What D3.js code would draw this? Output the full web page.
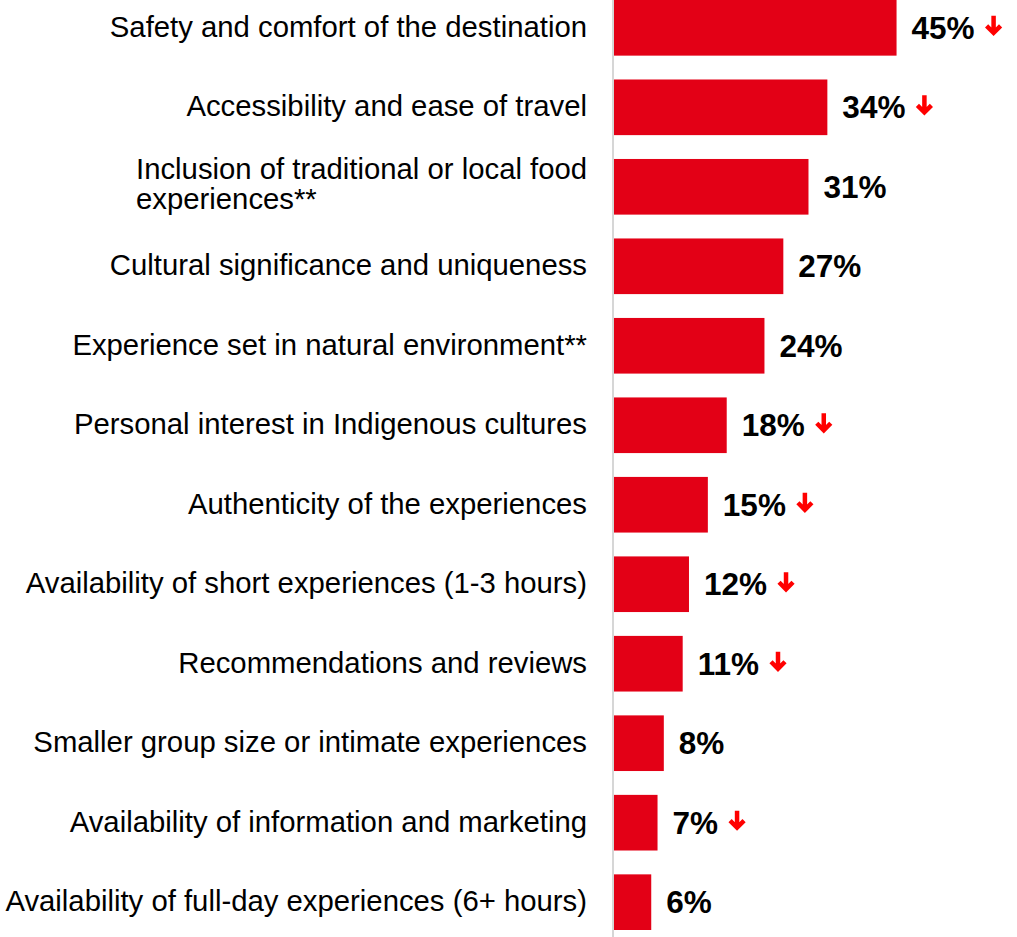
<!DOCTYPE html>
<html>
<head>
<meta charset="utf-8">
<script src="https://cdn.jsdelivr.net/npm/d3@7"></script>
<style>
  html, body { margin: 0; padding: 0; background: #fff; }
  svg { display: block; }
</style>
</head>
<body>
<svg id="chart" width="1017" height="937"></svg>
<script>
// Factors considered when choosing an Indigenous tourism experience
const categories = [
  "Safety and comfort of the destination",
  "Accessibility and ease of travel",
  "Inclusion of traditional or local food\nexperiences**",
  "Cultural significance and uniqueness",
  "Experience set in natural environment**",
  "Personal interest in Indigenous cultures",
  "Authenticity of the experiences",
  "Availability of short experiences (1-3 hours)",
  "Recommendations and reviews",
  "Smaller group size or intimate experiences",
  "Availability of information and marketing",
  "Availability of full-day experiences (6+ hours)"
];
const values = [45, 34, 31, 27, 24, 18, 15, 12, 11, 8, 7, 6];
// true where the share fell compared with the previous wave
const decreased = [true, true, false, false, false, true, true, true, true, false, true, false];

const svg = d3.select("#chart");
const W = 1017, H = 937;
const axisX = 613.5;

const x = d3.scaleLinear().domain([0, 100]).range([axisX, axisX + 629]);
const y = d3.scaleBand().domain(categories).range([0, 930]).paddingInner(0.3).paddingOuter(0);

// bars
svg.append("g").selectAll("rect")
  .data(values)
  .join("rect")
  .attr("x", x(0))
  .attr("y", (d, i) => y(categories[i]))
  .attr("width", d => x(d) - x(0))
  .attr("height", y.bandwidth())
  .attr("fill", "#e30016");

// vertical axis line
svg.append("line")
  .attr("x1", axisX - 0.5).attr("x2", axisX - 0.5)
  .attr("y1", 0).attr("y2", H)
  .attr("stroke", "#d6d6d6")
  .attr("stroke-width", 2);

// category labels
const catFont = 29.3;
const cat = svg.append("g")
  .attr("font-family", "Liberation Sans, Arial, sans-serif")
  .attr("font-size", catFont)
  .attr("fill", "#000")
  .attr("text-anchor", "end");

categories.forEach((c, i) => {
  const cy = y(c) + y.bandwidth() / 2;
  const lines = c.split("\n");
  if (lines.length === 1) {
    cat.append("text").attr("x", 587).attr("y", cy + 9).text(c);
  } else {
    const t = cat.append("text").attr("x", 136).attr("y", cy + 9).attr("text-anchor", "start");
    t.append("tspan").attr("x", 136).attr("dy", -17).text(lines[0]);
    t.append("tspan").attr("x", 136).attr("dy", 30).text(lines[1]);
  }
});

// value labels + trend arrows
const valG = svg.append("g")
  .attr("font-family", "Liberation Sans, Arial, sans-serif")
  .attr("font-size", 31.5)
  .attr("font-weight", "bold")
  .attr("fill", "#000");

const arrowG = svg.append("g")
  .attr("fill", "none")
  .attr("stroke", "#ff0000")
  .attr("stroke-width", 4.5)
  .attr("stroke-linecap", "butt")
  .attr("stroke-linejoin", "miter");

values.forEach((v, i) => {
  const cy = y(categories[i]) + y.bandwidth() / 2;
  const t = valG.append("text")
    .attr("x", x(v) + 15)
    .attr("y", cy + 11)
    .text(v + "%");
  if (decreased[i]) {
    const bb = t.node().getBBox();
    const ax = bb.x + bb.width + 19;
    const ay = cy - 1;
    arrowG.append("path")
      .attr("d", `M${ax},${ay - 11}L${ax},${ay + 6}M${ax - 7},${ay - 1}L${ax},${ay + 6}L${ax + 7},${ay - 1}`);
  }
});
</script>
</body>
</html>
